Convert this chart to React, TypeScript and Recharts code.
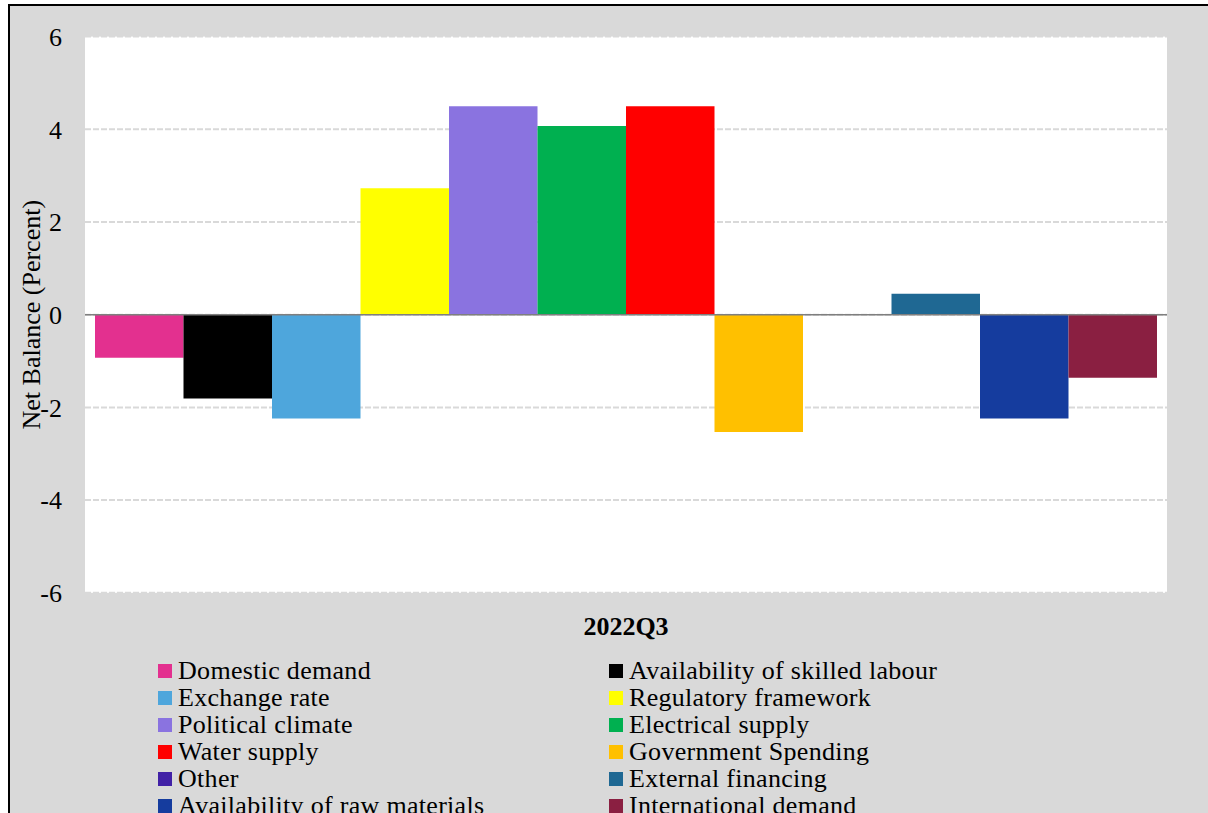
import React from 'react';
import { BarChart, Bar, XAxis, YAxis, CartesianGrid, Legend, ReferenceLine, Label } from 'recharts';

const period = '2022Q3';

const factors = [
  'Domestic demand',
  'Availability of skilled labour',
  'Exchange rate',
  'Regulatory framework',
  'Political climate',
  'Electrical supply',
  'Water supply',
  'Government Spending',
  'Other',
  'External financing',
  'Availability of raw materials',
  'International demand',
];

const netBalance = [-0.93, -1.81, -2.24, 2.73, 4.5, 4.07, 4.5, -2.53, 0, 0.45, -2.24, -1.36];

const colors = [
  '#e3308f',
  '#000000',
  '#4ea6dc',
  '#ffff00',
  '#8a73e0',
  '#00b050',
  '#ff0000',
  '#ffc000',
  '#4121a6',
  '#1f6893',
  '#153c9e',
  '#8a1f41',
];

const yTicks = [-6, -4, -2, 0, 2, 4, 6];

const row: Record<string, string | number> = { period };
factors.forEach((f, i) => {
  row[`s${i}`] = netBalance[i];
});
const data = [row];

const FONT = '"Liberation Serif", "Times New Roman", serif';

// two-column legend, filled row by row
const FactorLegend = () => (
  <div
    style={{
      display: 'grid',
      gridTemplateColumns: '451px 451px',
      fontFamily: FONT,
      fontSize: 26,
      letterSpacing: 0.3,
      lineHeight: '27px',
      color: '#000',
    }}
  >
    {factors.map((f, i) => (
      <div key={f} style={{ display: 'flex', alignItems: 'center', height: 27, whiteSpace: 'nowrap' }}>
        <span style={{ width: 14, height: 14, background: colors[i], marginRight: 6, flex: 'none' }} />
        <span>{f}</span>
      </div>
    ))}
  </div>
);

export default function App() {
  return (
    <div
      style={{
        position: 'absolute',
        left: 8,
        top: 4,
        width: 1200,
        height: 809,
        borderTop: '2px solid #000',
        borderLeft: '2px solid #000',
        background: '#d9d9d9',
        overflow: 'hidden',
      }}
    >
      <BarChart
        width={1198}
        height={807}
        data={data}
        margin={{ top: 30.6, right: 41, left: 0, bottom: 180.2 }}
        barSize={88.5}
        barGap={0}
      >
        <CartesianGrid
          vertical={false}
          fill="#ffffff"
          stroke="#d9d9d9"
          strokeWidth={2}
          strokeDasharray="6 2"
        />
        <XAxis
          dataKey="period"
          height={40}
          axisLine={false}
          tickLine={false}
          tickSize={0}
          tickMargin={24}
          tick={{ fill: '#000', fontFamily: FONT, fontSize: 26, fontWeight: 'bold' }}
        />
        <YAxis
          width={75}
          domain={[-6, 6]}
          ticks={yTicks}
          axisLine={false}
          tickLine={false}
          tickSize={0}
          tickMargin={23}
          tick={{ fill: '#000', fontFamily: FONT, fontSize: 26 }}
        >
          <Label
            value="Net Balance (Percent)"
            angle={-90}
            position="insideLeft"
            offset={21}
            style={{ textAnchor: 'middle', fill: '#000', fontFamily: FONT, fontSize: 26 }}
          />
        </YAxis>
        {factors.map((f, i) => (
          <Bar key={f} dataKey={`s${i}`} name={f} fill={colors[i]} isAnimationActive={false} />
        ))}
        <ReferenceLine y={0} stroke="#7f7f7f" strokeWidth={1.5} />
        <Legend
          layout="horizontal"
          verticalAlign="middle"
          align="center"
          wrapperStyle={{ left: 148, top: 651, width: 950 }}
          content={<FactorLegend />}
        />
      </BarChart>
    </div>
  );
}
